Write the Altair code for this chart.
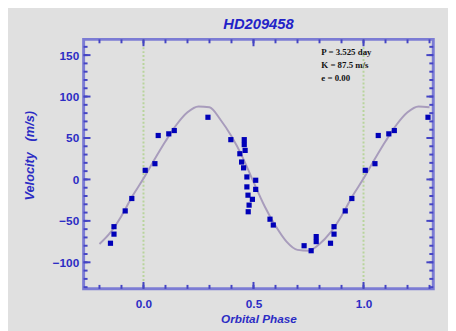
import altair as alt
import pandas as pd

# ---- data ----
obs_phase = [0.008, 0.052, 0.067, 0.115, 0.140, 0.293, 0.397,
             0.438, 0.446, 0.458, 0.458, 0.462, 0.455, 0.470, 0.470, 0.510, 0.510,
             0.475, 0.495, 0.480, 0.476,
             0.575, 0.590, 0.730, 0.762, 0.785, 0.785, 0.850, 0.866, 0.866, 0.917, 0.947]
obs_vel = [11, 19, 53, 55, 59, 75, 48,
           31, 21, 48, 42, 35, 14, 3, -9, -1, -12,
           -19, -24, -31, -39,
           -48, -55, -80, -86, -69, -75, -77, -57, -66, -38, -23]

fit_phase = [-0.20, -0.15, -0.10, -0.05, 0.00, 0.05, 0.10, 0.15, 0.20, 0.25, 0.30,
             0.35, 0.40, 0.45, 0.50, 0.55, 0.60, 0.65, 0.70, 0.75, 0.80, 0.85,
             0.90, 0.95, 1.00, 1.05, 1.10, 1.15, 1.20, 1.25, 1.30]
fit_vel = [-78, -64, -44, -20, 1, 24, 46, 66, 81, 88, 87,
           72, 52, 27, -3, -32, -56, -75, -85, -86, -78, -64,
           -44, -20, 1, 24, 46, 66, 81, 88, 87]

marker_phases = [0.0, 1.0]
x_tick_values = [-0.2, -0.1, 0.0, 0.1, 0.2, 0.3, 0.4, 0.5, 0.6, 0.7, 0.8, 0.9, 1.0, 1.1, 1.2, 1.3]
x_major_ticks = [0.0, 0.5, 1.0]
y_minor_ticks = [-130, -120, -110, -100, -90, -80, -70, -60, -50, -40, -30, -20, -10, 0,
                 10, 20, 30, 40, 50, 60, 70, 80, 90, 100, 110, 120, 130, 140, 150, 160]
y_major_ticks = [-100, -50, 0, 50, 100, 150]
annotation = ["P = 3.525 day", "K = 87.5 m/s", "e = 0.00"]
title_text = "HD209458"

# ---- phase-folded display (points repeated outside 0..1) ----
rows = []
for p, v in zip(obs_phase, obs_vel):
    rows.append({"phase": p, "vel": v})
    if p >= 0.8:
        rows.append({"phase": p - 1.0, "vel": v})
    if p <= 0.3:
        rows.append({"phase": p + 1.0, "vel": v})
obs = pd.DataFrame(rows)
fit = pd.DataFrame({"phase": fit_phase, "vel": fit_vel})

W, H = 356, 254
BG = "#e0e0e0"
AX = "#7c7cd4"
LAB = "#2c2cc4"
XDOM = [-0.272, 1.317]
YDOM = [-132, 169]

xs = alt.Scale(domain=XDOM, nice=False, zero=False)
ys = alt.Scale(domain=YDOM, nice=False, zero=False)

xaxis = alt.Axis(values=x_major_ticks, format=".1f", ticks=False, domain=False, grid=False,
                 labelFont="Liberation Sans", labelFontSize=12, labelFontWeight="bold",
                 labelColor=LAB, labelPadding=10,
                 title="Orbital Phase", titleFont="Liberation Sans", titleFontSize=12,
                 titleFontWeight="bold", titleFontStyle="italic", titleColor=LAB, titlePadding=4)
yaxis = alt.Axis(values=y_major_ticks, ticks=False, domain=False, grid=False,
                 labelFont="Liberation Sans", labelFontSize=12, labelFontWeight="bold",
                 labelColor=LAB, labelPadding=5,
                 title="Velocity\u00a0\u00a0\u00a0(m/s)", titleFont="Liberation Sans", titleFontSize=13,
                 titleFontWeight="bold", titleFontStyle="italic", titleColor=LAB,
                 titleX=-55, titleY=118, titleAngle=270, titleBaseline="middle", titleAlign="center")

base_x = alt.X("phase:Q", scale=xs, axis=xaxis)
base_y = alt.Y("vel:Q", scale=ys, axis=yaxis)

vlines = alt.Chart(pd.DataFrame({"phase": marker_phases})).mark_rule(
    color="#b8d49c", strokeWidth=2, strokeDash=[2, 2]
).encode(x=alt.X("phase:Q", scale=xs, axis=xaxis))

curve = alt.Chart(fit).mark_line(color="#a89cbc", strokeWidth=2, interpolate="monotone").encode(
    x=base_x, y=base_y)

points = alt.Chart(obs).mark_square(size=28, color="#0000b8", opacity=1).encode(
    x=base_x, y=base_y)

xt = pd.DataFrame({"t": x_tick_values})
xmaj = pd.DataFrame({"t": x_major_ticks})
yt = pd.DataFrame({"t": y_minor_ticks})
ymaj = pd.DataFrame({"t": y_major_ticks})

tick_style = dict(color="#4444c4", strokeWidth=2)
tx = alt.X("t:Q", scale=xs, axis=xaxis)
ty = alt.Y("t:Q", scale=ys, axis=yaxis)
ticks = [
    alt.Chart(xt).mark_rule(**tick_style).encode(x=tx, y=alt.value(H), y2=alt.value(H - 4)),
    alt.Chart(xt).mark_rule(**tick_style).encode(x=tx, y=alt.value(0), y2=alt.value(4)),
    alt.Chart(xmaj).mark_rule(**tick_style).encode(x=tx, y=alt.value(H), y2=alt.value(H - 7)),
    alt.Chart(xmaj).mark_rule(**tick_style).encode(x=tx, y=alt.value(0), y2=alt.value(7)),
    alt.Chart(yt).mark_rule(**tick_style).encode(y=ty, x=alt.value(0), x2=alt.value(4)),
    alt.Chart(yt).mark_rule(**tick_style).encode(y=ty, x=alt.value(W), x2=alt.value(W - 4)),
    alt.Chart(ymaj).mark_rule(**tick_style).encode(y=ty, x=alt.value(0), x2=alt.value(7)),
    alt.Chart(ymaj).mark_rule(**tick_style).encode(y=ty, x=alt.value(W), x2=alt.value(W - 7)),
]

note = alt.Chart(pd.DataFrame({"a": [0]})).mark_text(
    align="left", baseline="middle", font="Liberation Serif", fontSize=9, fontWeight="bold",
    color="#111111", lineHeight=13
).encode(x=alt.value(242), y=alt.value(13), text=alt.value(annotation))

chart = alt.layer(vlines, curve, points, *ticks, note).properties(
    width=W, height=H,
    title=alt.TitleParams(text=title_text, font="Liberation Sans", fontSize=15, fontWeight="bold",
                          fontStyle="italic", color="#2222c8", offset=7, anchor="middle"),
    autosize=alt.AutoSizeParams(type="none"),
    padding={"left": 77, "top": 29, "right": 15, "bottom": 40},
    background=BG,
).configure_view(stroke=AX, strokeWidth=3, fill=BG)

chart.save("out.html", embed_options={"renderer": "svg", "actions": False})
